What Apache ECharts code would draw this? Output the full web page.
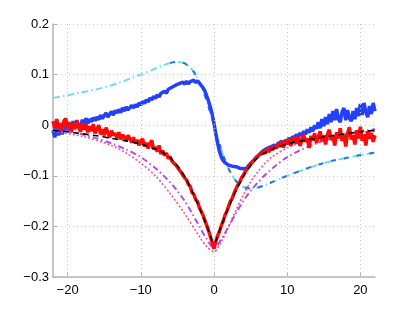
<!DOCTYPE html>
<html><head><meta charset="utf-8">
<script src="https://cdn.jsdelivr.net/npm/echarts@6/dist/echarts.min.js"></script>
<style>html,body{margin:0;padding:0;background:#fff}#c{width:415px;height:312px}</style>
</head><body><div id="c"></div>
<script>
// x grid for the noisy measured curves (step 0.25 from -22 to 22)
const xNoisy = [];
for (let i = 0; i <= 176; i++) xNoisy.push(-22 + i * 0.25);

const redValues = [
0.008,-0.006,0.012,-0.004, 0.004,-0.010,0.009,0.013, -0.006,0.006,-0.012,0.003, -0.008,0.009,-0.003,-0.013,
0.004,-0.009,0.002,-0.014, -0.002,-0.012,0.002,-0.016, -0.008,0.000,-0.018,-0.008, -0.020,-0.005,-0.014,-0.024,
-0.011,-0.020,-0.016,-0.025, -0.014,-0.028,-0.019,-0.023, -0.031,-0.020,-0.027,-0.034, -0.024,-0.036,-0.029,-0.040,
-0.031,-0.027,-0.042,-0.035, -0.046,-0.036,-0.030,-0.048, -0.043,-0.052,-0.040,-0.057, -0.050,-0.060,-0.055,-0.066,
-0.062,-0.071,-0.069,-0.078, -0.083,-0.085,-0.093,-0.096, -0.104,-0.108,-0.117,-0.121, -0.133,-0.137,-0.147,-0.151,
-0.163,-0.170,-0.178,-0.188, -0.198,-0.208,-0.220,-0.232,
-0.244,
-0.230,-0.218,-0.210,-0.198, -0.190,-0.178,-0.170,-0.160, -0.150,-0.144,-0.134,-0.126, -0.118,-0.113,-0.104,-0.099,
-0.092,-0.089,-0.082,-0.079, -0.073,-0.071,-0.064,-0.066, -0.058,-0.061,-0.052,-0.056, -0.047,-0.053,-0.044,-0.049,
-0.041,-0.046,-0.036,-0.043, -0.034,-0.044,-0.030,-0.038, -0.027,-0.040,-0.031,-0.024, -0.036,-0.022,-0.041,-0.028,
-0.019,-0.033,-0.026,-0.045, -0.021,-0.030,-0.016,-0.035, -0.024,-0.012,-0.031,-0.020, -0.038,-0.018,-0.009,-0.029,
-0.022,-0.040,-0.014,-0.026, -0.006,-0.031,-0.019,-0.042, -0.016,-0.004,-0.028,-0.020, -0.038,-0.010,-0.026,-0.003,
-0.031,-0.018,-0.040,-0.012, -0.027,-0.015,-0.033,-0.020];

const blueValues = [
-0.010,-0.024,-0.004,-0.020, 0.000,-0.018,-0.006,0.006, -0.012,0.002,-0.013,0.008, -0.006,0.010,-0.002,-0.006,
0.011,0.000,0.014,0.003, 0.012,0.007,0.015,0.009, 0.016,0.011,0.020,0.013, 0.019,0.024,0.016,0.022,
0.027,0.020,0.029,0.024, 0.031,0.025,0.034,0.028, 0.036,0.030,0.033,0.039, 0.034,0.041,0.036,0.044,
0.040,0.047,0.043,0.050, 0.046,0.054,0.050,0.057, 0.053,0.060,0.056,0.063, 0.061,0.067,0.063,0.071,
0.068,0.075,0.072,0.079, 0.076,0.082,0.079,0.085, 0.081,0.087,0.082,0.086, 0.083,0.089,0.084,0.088,
0.083,0.080,0.074,0.068, 0.058,0.048,0.036,0.022,
0.004,
-0.018,-0.036,-0.052,-0.063, -0.070,-0.074,-0.076,-0.079, -0.077,-0.081,-0.078,-0.082, -0.080,-0.085,-0.082,-0.086,
-0.083,-0.085,-0.079,-0.076, -0.072,-0.068,-0.064,-0.061, -0.057,-0.055,-0.050,-0.052, -0.046,-0.049,-0.043,-0.045,
-0.039,-0.043,-0.036,-0.039, -0.032,-0.037,-0.029,-0.033, -0.025,-0.031,-0.022,-0.027, -0.018,-0.024,-0.015,-0.021,
-0.012,-0.018,-0.008,-0.015, -0.004,-0.012,0.000,-0.007, 0.006,-0.006,0.012,-0.002, 0.016,0.002,0.022,0.006,
0.028,0.010,0.032,0.012, 0.006,0.026,0.034,0.010, 0.030,0.014,0.008,0.028, 0.012,0.034,0.018,0.042,
0.020,0.044,0.026,0.016, 0.038,0.022,0.044,0.028];

// smooth model curves
const xModel = [-22,-20,-18,-16,-14,-12,-10,-8,-7,-6,-5,-4,-3,-2,-1,0,1,2,3,4,5,6,7,8,10,12,14,16,18,20,22];
const cyanValues = [0.054,0.059,0.065,0.071,0.079,0.089,0.100,0.112,0.118,0.123,0.125,0.122,0.110,0.086,0.048,0.000,-0.048,-0.086,-0.110,-0.122,-0.125,-0.123,-0.118,-0.112,-0.100,-0.089,-0.079,-0.071,-0.065,-0.059,-0.054];
const blackValues = [-0.010,-0.013,-0.017,-0.021,-0.026,-0.031,-0.037,-0.047,-0.054,-0.064,-0.080,-0.102,-0.130,-0.163,-0.198,-0.233,-0.198,-0.163,-0.130,-0.102,-0.080,-0.064,-0.054,-0.047,-0.037,-0.031,-0.026,-0.021,-0.017,-0.013,-0.010];
const purpleValues = [-0.008,-0.012,-0.018,-0.026,-0.036,-0.048,-0.063,-0.085,-0.098,-0.113,-0.130,-0.150,-0.174,-0.200,-0.225,-0.243,-0.225,-0.200,-0.174,-0.150,-0.130,-0.113,-0.098,-0.085,-0.063,-0.048,-0.036,-0.026,-0.018,-0.012,-0.008];
const xPink = [-22,-18,-14,-12,-10,-8,-6,-4,-2,-1,0,1,2,3,4,5,6,7,8,10,12,14,18,22];
const pinkValues = [-0.012,-0.022,-0.040,-0.055,-0.075,-0.100,-0.135,-0.175,-0.220,-0.240,-0.250,-0.230,-0.200,-0.168,-0.138,-0.112,-0.092,-0.075,-0.062,-0.045,-0.034,-0.027,-0.018,-0.012];
const blueDashStart = 9; // blue dash-dot drawn from x = -6 onwards

const xTicks = [-20,-10,0,10,20];

const pair = (xs, ys) => ys.map((v, i) => [xs[i], v]);
const fmtY = v => { const r = Math.round(v * 10) / 10; if (r === 0) return '0'; return (r < 0 ? '\u2212' : '') + Math.abs(r).toString(); };
const fmtX = v => (v < 0 ? '\u2212' : '') + Math.abs(v);

const chart = echarts.init(document.getElementById('c'), null, {renderer: 'canvas'});
const labelFont = {color: '#000', fontSize: 13, fontFamily: 'Liberation Sans, Arial, sans-serif'};
const axisLineStyle = {show: true, onZero: false, lineStyle: {color: '#b4b4b4', width: 1.5}};
const gridDot = {color: '#c8c8c8', type: [1, 3], width: 1};
chart.setOption({
  animation: false,
  grid: {left: 53, right: 40, top: 24, bottom: 35},
  xAxis: {type: 'value', min: -22, max: 22,
    axisLine: axisLineStyle,
    axisTick: {show: true, inside: true, length: 4, lineStyle: {color: '#b4b4b4'}, customValues: xTicks},
    axisLabel: Object.assign({}, labelFont, {margin: 7, formatter: fmtX, customValues: xTicks}),
    splitLine: {show: false}},
  yAxis: {type: 'value', min: -0.3, max: 0.2, interval: 0.1,
    axisLine: axisLineStyle,
    axisTick: {show: true, inside: true, length: 4, lineStyle: {color: '#b4b4b4'}},
    axisLabel: Object.assign({}, labelFont, {margin: 4, formatter: fmtY}),
    splitLine: {show: true, lineStyle: gridDot}},
  series: [
    {type: 'line', data: [], silent: true, z: 0,
      markLine: {silent: true, symbol: 'none', label: {show: false}, animation: false,
        lineStyle: gridDot, emphasis: {disabled: true},
        data: xTicks.map(v => ({xAxis: v}))}},
    {type: 'line', data: pair(xModel, cyanValues), showSymbol: false, smooth: 0.3,
      lineStyle: {color: '#6fe0e0', width: 2, type: [7, 3, 1.5, 3]}, z: 1},
    {type: 'line', data: pair(xModel.slice(blueDashStart), cyanValues.slice(blueDashStart)), showSymbol: false, smooth: 0.3,
      lineStyle: {color: '#2f6fe8', width: 2, type: [5, 8]}, z: 2},
    {type: 'line', data: pair(xNoisy, blueValues), showSymbol: false,
      lineStyle: {color: '#2340ff', width: 3.5}, z: 3},
    {type: 'line', data: pair(xPink, pinkValues), showSymbol: false, smooth: 0.3,
      lineStyle: {color: '#ff4f8f', width: 1.6, type: [2, 2]}, z: 4},
    {type: 'line', data: pair(xModel, purpleValues), showSymbol: false, smooth: 0.3,
      lineStyle: {color: '#b84ae8', width: 2, type: [6, 3, 1.5, 3]}, z: 5},
    {type: 'line', data: pair(xNoisy, redValues), showSymbol: false,
      lineStyle: {color: '#ff0a0a', width: 3.5}, z: 6},
    {type: 'line', data: pair(xModel, blackValues), showSymbol: false, smooth: 0.3,
      lineStyle: {color: '#000', width: 1.6, type: [6, 4]}, z: 7}
  ]
});
</script></body></html>
